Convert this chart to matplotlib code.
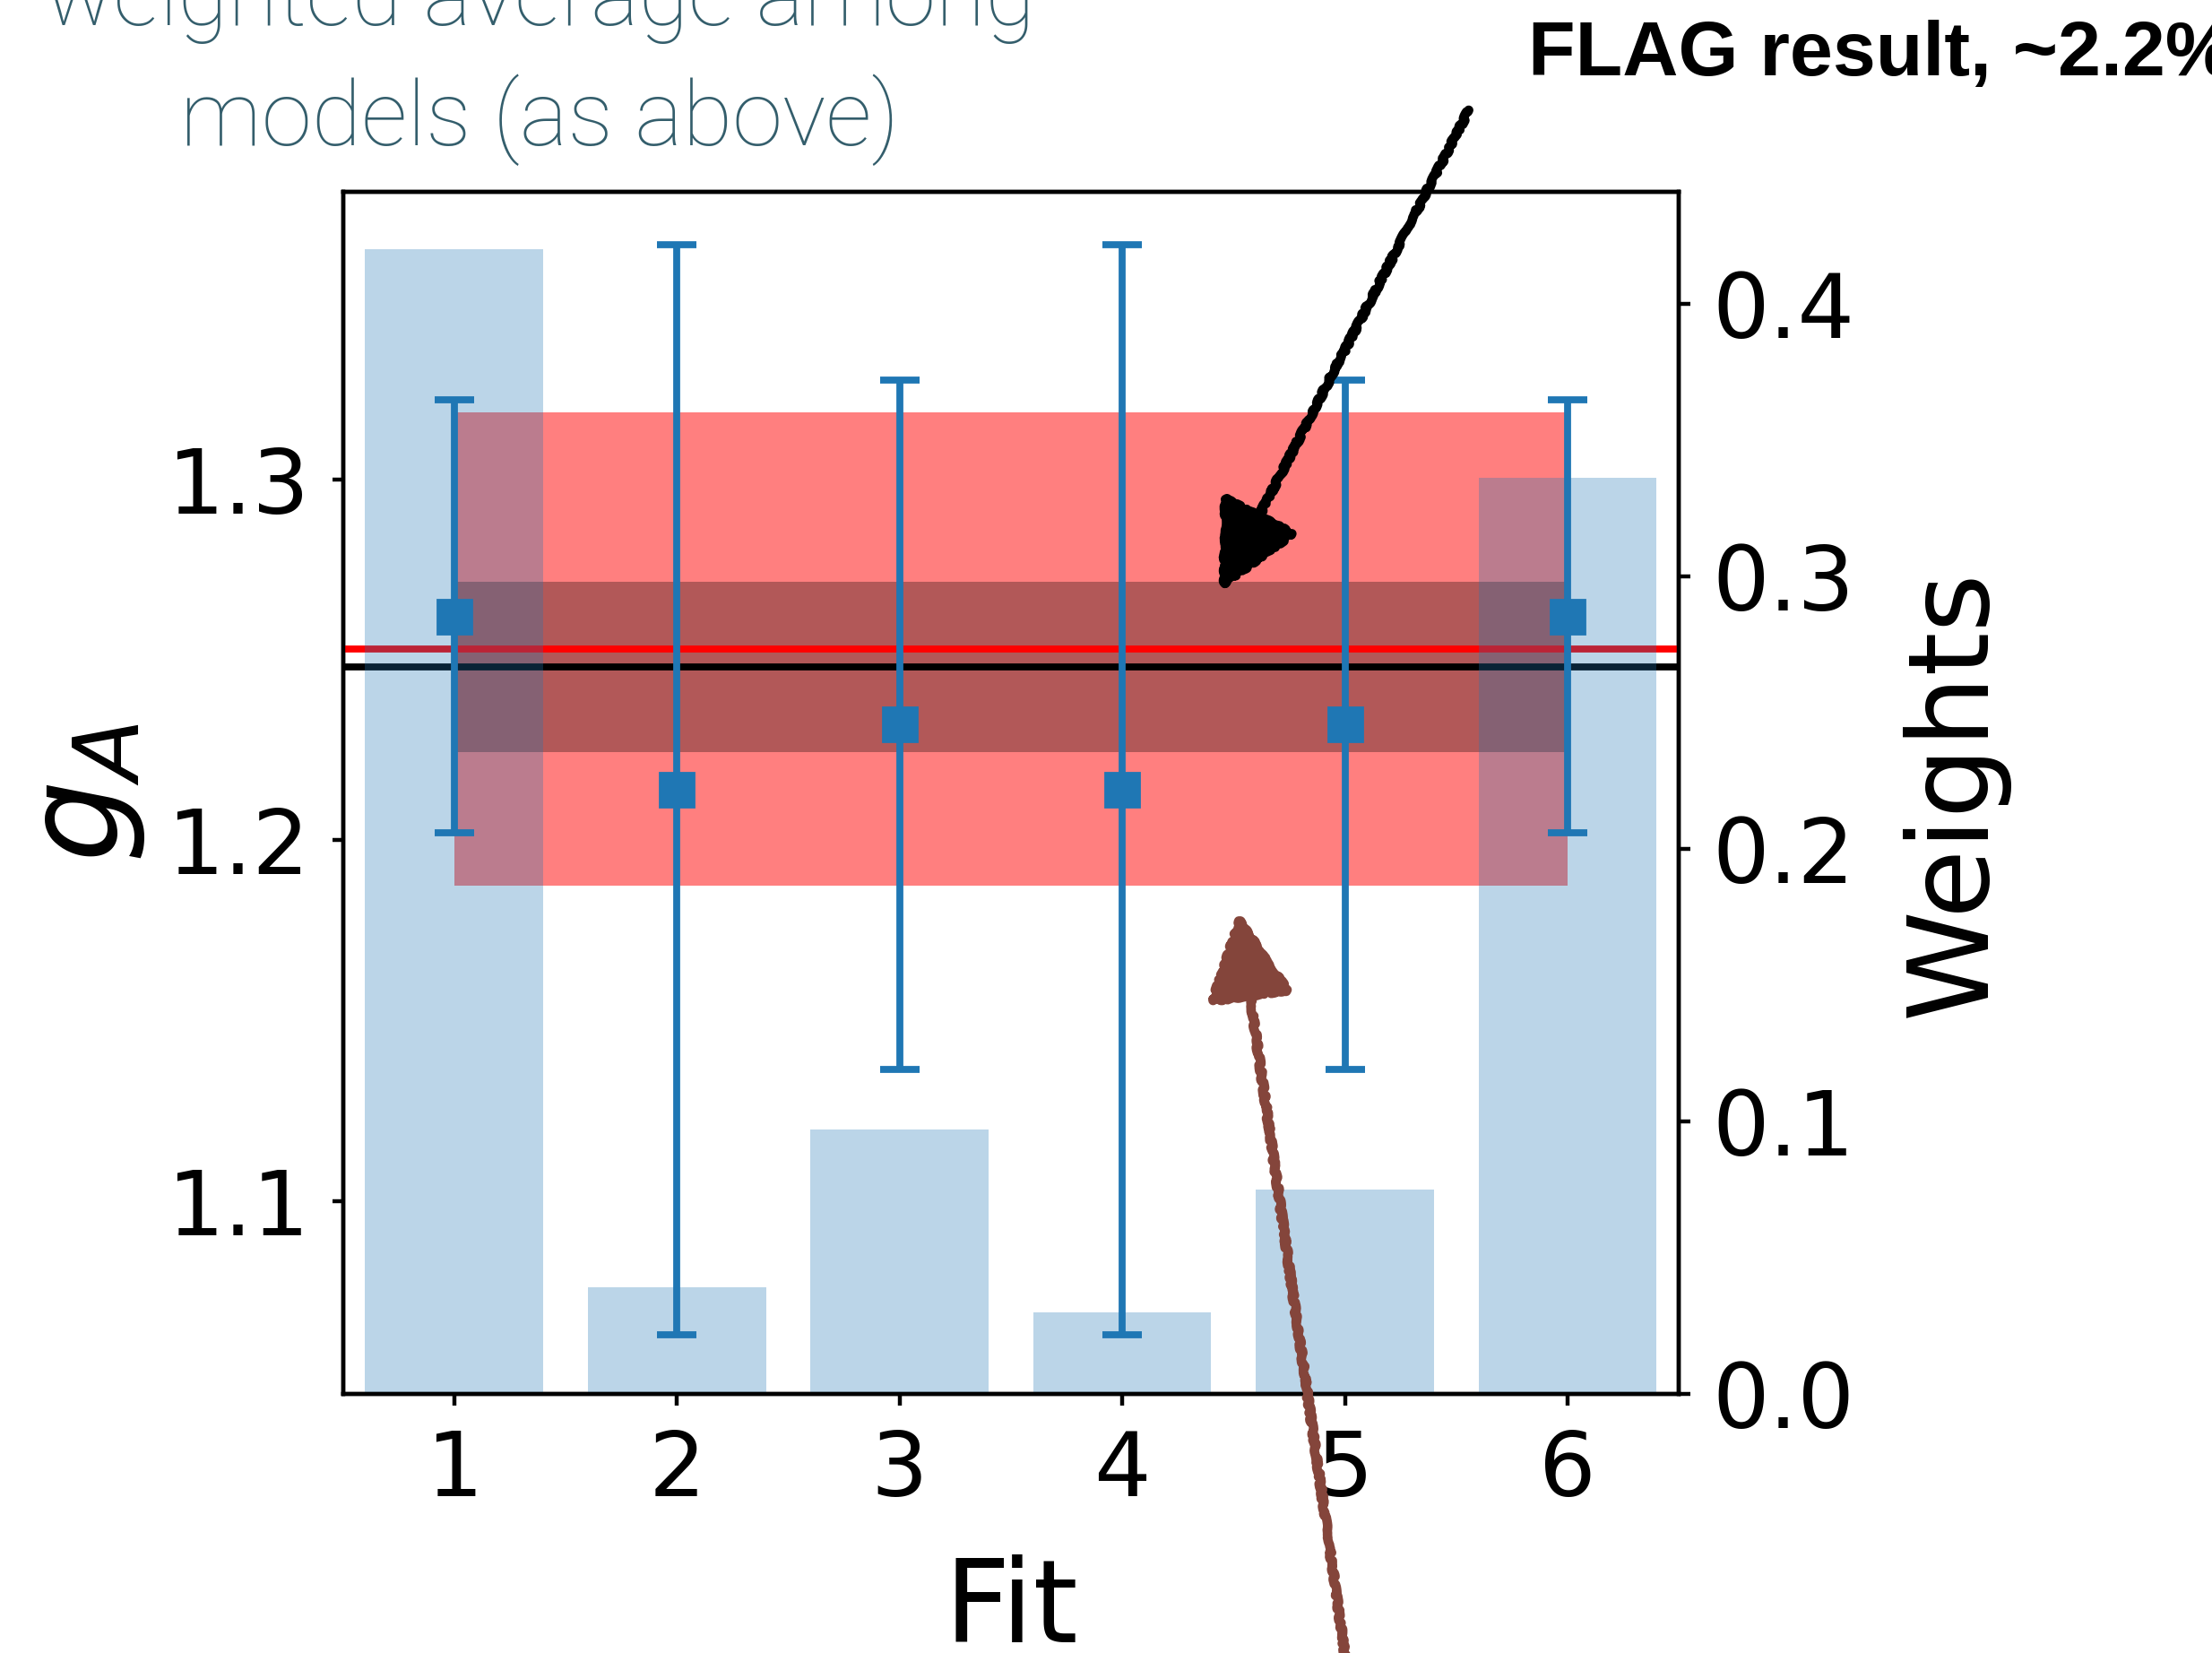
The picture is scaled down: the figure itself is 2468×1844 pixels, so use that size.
import matplotlib
matplotlib.use("Agg")
import matplotlib.pyplot as plt
from matplotlib.patches import FancyArrowPatch

# ---- data ----
fits = [1, 2, 3, 4, 5, 6]
weights = [0.420, 0.039, 0.097, 0.030, 0.075, 0.336]
ga = [1.262, 1.214, 1.232, 1.214, 1.232, 1.262]
ga_err = [0.060, 0.151, 0.0955, 0.151, 0.0955, 0.060]
avg_val = 1.253
avg_err = 0.0655
flag_val = 1.248
flag_err = 0.0235
band_x = [1, 6]

plt.rcParams['font.family'] = ['DejaVu Sans']

fig = plt.figure(figsize=(12.34, 9.22), dpi=200)
ax = fig.add_axes([0.155, 0.1567, 0.604, 0.7273])
ax2 = ax.twinx()

ax.fill_between(band_x, [avg_val - avg_err] * 2, [avg_val + avg_err] * 2,
                color='red', alpha=0.5, lw=0, zorder=1)
ax.fill_between(band_x, [flag_val - flag_err] * 2, [flag_val + flag_err] * 2,
                color='black', alpha=0.3, lw=0, zorder=2)
ax.axhline(avg_val, color='red', lw=2.8, zorder=3)
ax.axhline(flag_val, color='black', lw=2.8, zorder=3)
ax.errorbar(fits, ga, yerr=ga_err, fmt='s', color='#1f77b4', ms=14,
            elinewidth=2.8, capsize=8, capthick=2.8, zorder=4)

ax2.bar(fits, weights, width=0.8, color='#1f77b4', alpha=0.3)

ax.set_xlim(0.5, 6.5)
ax.set_ylim(1.0465, 1.3797)
ax2.set_ylim(0, 0.441)
ax.set_xticks(fits)
ax.set_yticks([1.1, 1.2, 1.3])
ax2.set_yticks([0.0, 0.1, 0.2, 0.3, 0.4])

for a in (ax, ax2):
    a.tick_params(labelsize=36, length=4.5, width=1.6, pad=9)
    for s in a.spines.values():
        s.set_linewidth(1.6)

ax.set_xlabel('Fit', fontsize=46, labelpad=16)
ax.set_ylabel('$g_A$', fontsize=52, labelpad=8)
ax2.set_ylabel('Weights', fontsize=45, labelpad=18)

# annotations
teal = '#345e6c'
tfam = ['Roboto', 'DejaVu Sans']
fig.text(0.244, 1 - 28 / 1844, 'weighted average among', ha='center', va='baseline',
         fontsize=36.5, color=teal, family=tfam, fontweight='light')
fig.text(0.244, 1 - 162 / 1844, 'models (as above)', ha='center', va='baseline',
         fontsize=36.5, color=teal, family=tfam, fontweight='light')
fig.text(1705 / 2468, 1 - 84 / 1844, 'FLAG result, ~2.2%', ha='left', va='baseline',
         fontsize=31, fontweight='bold', color='black',
         family=['Liberation Sans', 'DejaVu Sans'])

arr1 = FancyArrowPatch((0.665, 0.936), (0.5503, 0.639), transform=fig.transFigure,
                       arrowstyle='-|>,head_length=1.5,head_width=0.75',
                       mutation_scale=20, color='black', lw=3.8)
arr1.set_sketch_params(scale=1.5, length=40, randomness=20)
fig.add_artist(arr1)
arr2 = FancyArrowPatch((0.609, -0.01), (0.5593, 0.452), transform=fig.transFigure,
                       arrowstyle='-|>,head_length=1.5,head_width=0.75',
                       mutation_scale=20, color='#84453b', lw=3.8)
arr2.set_sketch_params(scale=1.5, length=40, randomness=20)
fig.add_artist(arr2)

fig.savefig('out.png', dpi=200)
